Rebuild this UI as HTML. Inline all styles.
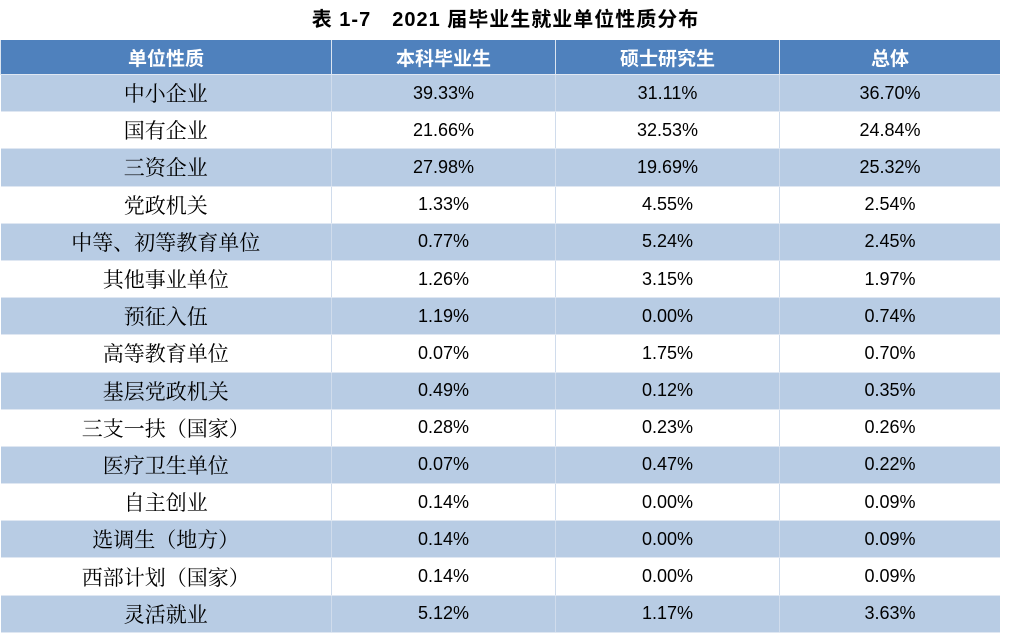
<!DOCTYPE html><html><head><meta charset="utf-8"><style>
body{margin:0;width:1011px;height:640px;background:#fff;overflow:hidden;font-family:"Liberation Sans","Noto Sans CJK SC",sans-serif}
.t{position:absolute;top:3px;left:0;width:1011px;text-align:center;font-weight:bold;font-size:20px;letter-spacing:1px;color:#000}
table{position:absolute;left:0;top:40px;border-collapse:collapse;width:1000px}
td{height:36.2px;padding:0;text-align:center;font-size:18px;border-left:1px solid #d0dcec;border-bottom:1px solid #dfe7f2;color:#000}
td:first-child{border-left:none;font-size:21px;width:330px;font-family:"Noto Serif CJK SC","Liberation Serif",serif}
td:nth-child(2){width:223px}td:nth-child(3){width:223px}
tr.h td{background:#4f81bd;color:#fff;font-weight:bold;font-size:19px;height:34px;font-family:"Noto Sans CJK SC",sans-serif;border-left:1px solid #dbe5f1}
tr:nth-child(even) td{background:#b8cce4}
</style></head><body>
<div class="t">表 1-7　2021 届毕业生就业单位性质分布</div>
<table>
<tr class="h"><td>单位性质</td><td>本科毕业生</td><td>硕士研究生</td><td>总体</td></tr>
<tr><td>中小企业</td><td>39.33%</td><td>31.11%</td><td>36.70%</td></tr>
<tr><td>国有企业</td><td>21.66%</td><td>32.53%</td><td>24.84%</td></tr>
<tr><td>三资企业</td><td>27.98%</td><td>19.69%</td><td>25.32%</td></tr>
<tr><td>党政机关</td><td>1.33%</td><td>4.55%</td><td>2.54%</td></tr>
<tr><td>中等、初等教育单位</td><td>0.77%</td><td>5.24%</td><td>2.45%</td></tr>
<tr><td>其他事业单位</td><td>1.26%</td><td>3.15%</td><td>1.97%</td></tr>
<tr><td>预征入伍</td><td>1.19%</td><td>0.00%</td><td>0.74%</td></tr>
<tr><td>高等教育单位</td><td>0.07%</td><td>1.75%</td><td>0.70%</td></tr>
<tr><td>基层党政机关</td><td>0.49%</td><td>0.12%</td><td>0.35%</td></tr>
<tr><td>三支一扶（国家）</td><td>0.28%</td><td>0.23%</td><td>0.26%</td></tr>
<tr><td>医疗卫生单位</td><td>0.07%</td><td>0.47%</td><td>0.22%</td></tr>
<tr><td>自主创业</td><td>0.14%</td><td>0.00%</td><td>0.09%</td></tr>
<tr><td>选调生（地方）</td><td>0.14%</td><td>0.00%</td><td>0.09%</td></tr>
<tr><td>西部计划（国家）</td><td>0.14%</td><td>0.00%</td><td>0.09%</td></tr>
<tr><td>灵活就业</td><td>5.12%</td><td>1.17%</td><td>3.63%</td></tr>
</table>
</body></html>
